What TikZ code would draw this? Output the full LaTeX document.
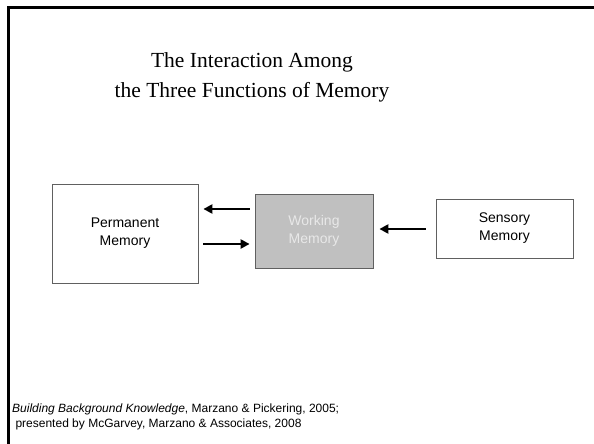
\documentclass[tikz,border=0pt]{standalone}
\usepackage{fontspec}
\setmainfont{Liberation Serif}
\setsansfont{Liberation Sans}
\usetikzlibrary{arrows.meta}
\definecolor{boxline}{HTML}{606060}
\definecolor{workfill}{HTML}{C0C0C0}
\definecolor{worktext}{HTML}{E8E8E8}
\begin{document}
\begin{tikzpicture}[x=1pt,y=-1pt,
  membox/.style={draw=boxline,line width=0.8pt,align=center,inner sep=0pt,
    font=\sffamily\fontsize{14}{18}\selectfont},
  flow/.style={line width=2.6pt,-{Triangle[length=9pt,width=9pt]}}]
\useasboundingbox (0,0) rectangle (594,444);
\fill[white] (0,0) rectangle (594,444);
\draw[line width=3pt] (8,444) -- (8,8) -- (594,8);
\node[font=\fontsize{21.5}{30}\selectfont,align=center] (title) at (252,77)
  {The Interaction Among\\the Three Functions of Memory};
\node[membox,minimum width=146pt,minimum height=99pt] (perm) at (125,233.5)
  {Permanent\\Memory};
\node[membox,fill=workfill,text=worktext,minimum width=118pt,minimum height=74pt] (work) at (314,231)
  {Working\\Memory};
\node[membox,minimum width=137pt,minimum height=59pt] (sens) at (504.5,228.5)
  {Sensory\\Memory};
\draw[flow,shorten <=5pt,shorten >=5pt] ([yshift=22pt]work.west) -- ([yshift=22pt]work.west -| perm.east);
\draw[flow,shorten <=5pt,shorten >=5pt] ([yshift=-13pt]work.west -| perm.east) -- ([yshift=-13pt]work.west);
\draw[flow,shorten <=10pt,shorten >=6pt] (sens.west |- 0,229) -- (work.east |- 0,229);
\node[anchor=north west,align=left,inner sep=0pt,font=\sffamily\fontsize{12}{15}\selectfont] (note) at (12,404)
  {\textit{Building Background Knowledge}, Marzano \& Pickering, 2005;\\\hspace*{0.28em}presented by McGarvey, Marzano \& Associates, 2008};
\end{tikzpicture}
\end{document}
